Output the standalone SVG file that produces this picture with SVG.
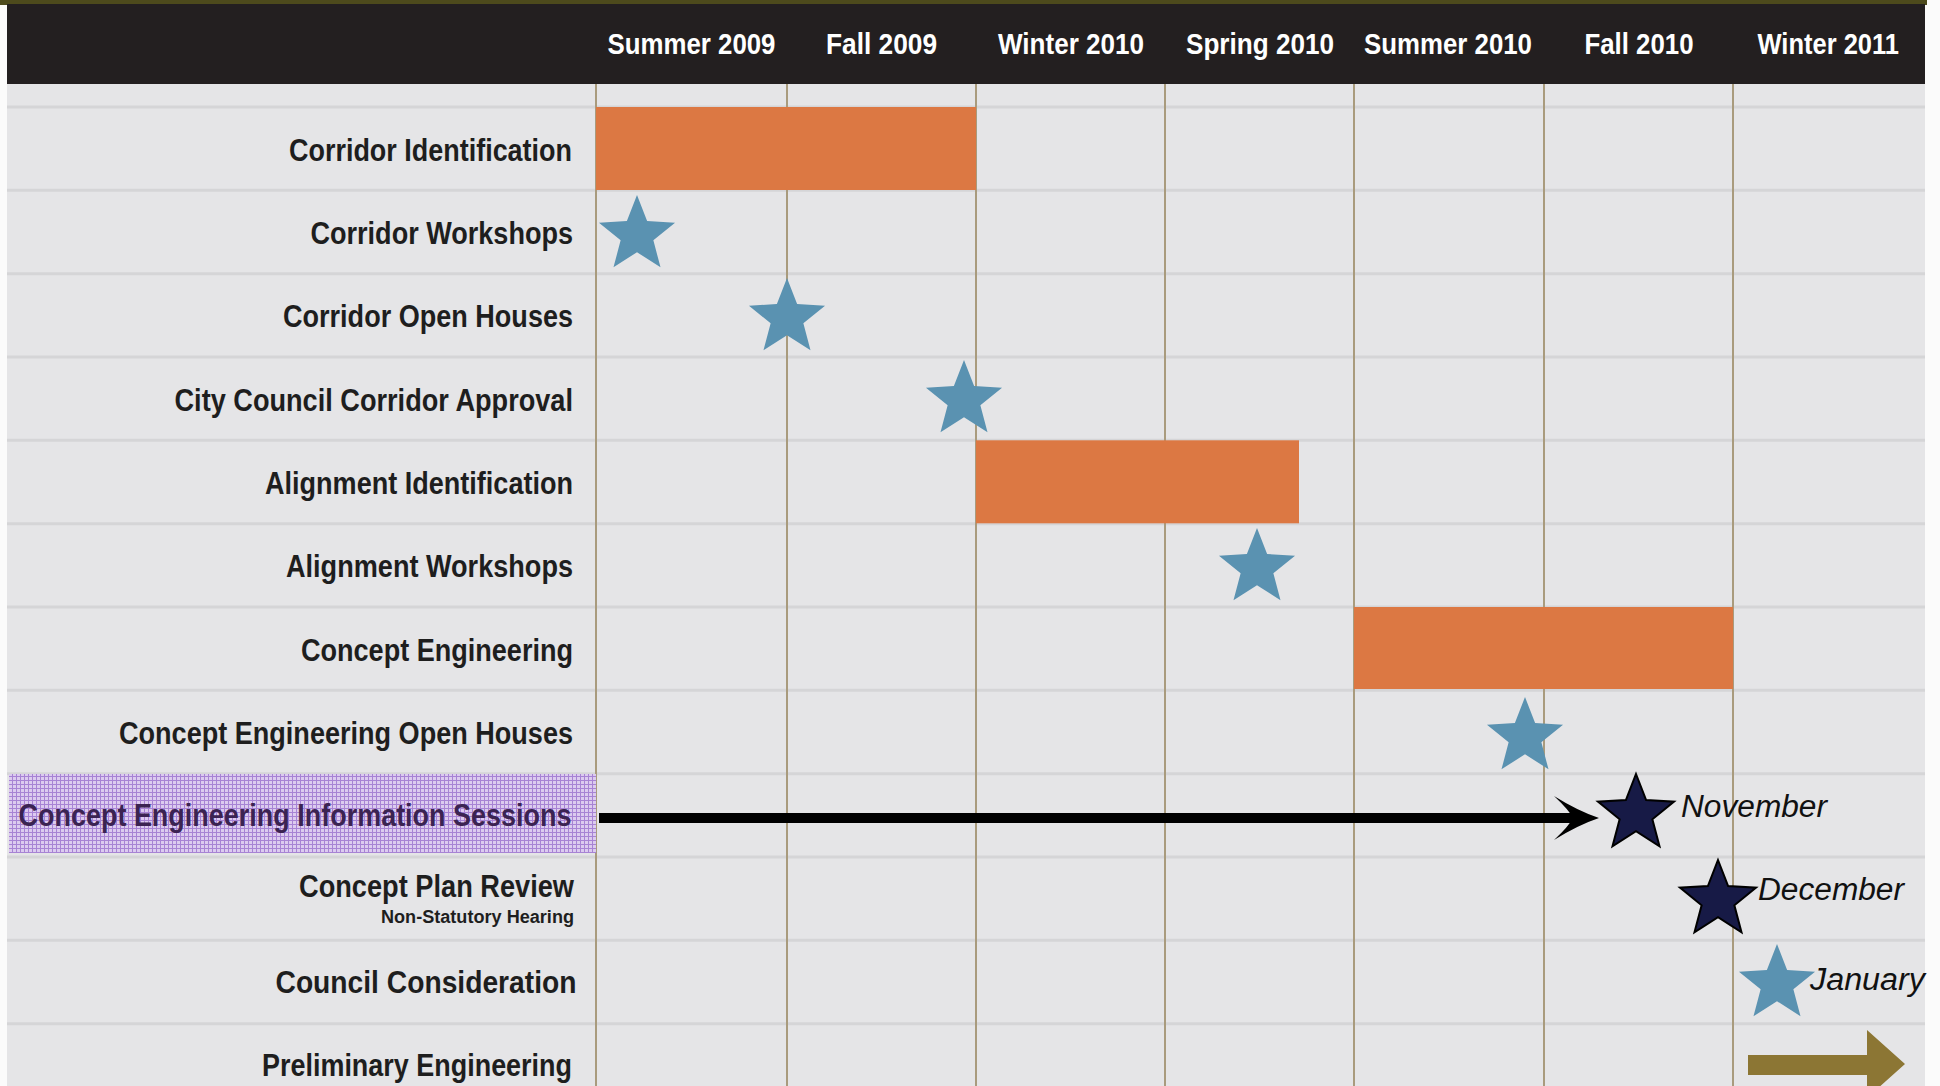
<svg xmlns="http://www.w3.org/2000/svg" xmlns:xlink="http://www.w3.org/1999/xlink" width="1940" height="1086" viewBox="0 0 1940 1086">
  <style>
    .hdr { font-family: "Liberation Sans", Arial, sans-serif; font-weight: bold; font-size: 29px; fill: #ffffff; }
    .lbl { font-family: "Liberation Sans", Arial, sans-serif; font-weight: bold; font-size: 32px; fill: #1e1e1e; }
    .sub { font-family: "Liberation Sans", Arial, sans-serif; font-weight: bold; font-size: 18px; fill: #1e1e1e; }
    .hi { fill: #3b2352; }
    .mon { font-family: "Liberation Sans", Arial, sans-serif; font-style: italic; font-size: 31px; fill: #111111; }
    .vline { stroke: #a99b7d; stroke-width: 2; }
    .rline { stroke: #d5d5d7; stroke-width: 3; }
    .bar { fill: #dc7843; }
    .star { fill: #5a92b1; }
    .dstar { fill: #171a46; stroke: #000000; stroke-width: 2; stroke-linejoin: miter; }
  </style>
  <defs>
    <path id="star" d="M0,-40 L10.11,-13.92 L38.04,-12.36 L16.36,5.32 L23.51,32.36 L0,17.2 L-23.51,32.36 L-16.36,5.32 L-38.04,-12.36 L-10.11,-13.92 Z"/>
    <pattern id="dots" width="4" height="4" patternUnits="userSpaceOnUse">
      <rect width="4" height="4" fill="#dccbef"/>
      <rect width="4" height="1" fill="#a783d4"/>
      <rect width="1" height="4" fill="#a783d4"/>
    </pattern>
    <marker id="barb" markerUnits="userSpaceOnUse" markerWidth="48" markerHeight="46" viewBox="0 0 48 46" refX="22" refY="22" orient="auto">
      <path d="M0,0 Q24,15 45,22 Q24,29 0,44 Q15,30 19,22 Q15,14 0,0 Z" fill="#000000"/>
    </marker>
  </defs>

  <!-- background -->
  <rect x="0" y="0" width="1940" height="1086" fill="#fbfbfb"/>
  <rect x="7" y="84" width="1918" height="1002" fill="#e5e5e7"/>
  <rect x="0" y="0" width="1927" height="5" fill="#4d4a1c"/>
  <rect x="7" y="4" width="1918" height="80" fill="#231f20"/>

  <!-- header -->
  <g id="header">
    <text class="hdr" x="607.5" y="54" textLength="168" lengthAdjust="spacingAndGlyphs">Summer 2009</text>
    <text class="hdr" x="826" y="54" textLength="111" lengthAdjust="spacingAndGlyphs">Fall 2009</text>
    <text class="hdr" x="998" y="54" textLength="146" lengthAdjust="spacingAndGlyphs">Winter 2010</text>
    <text class="hdr" x="1186" y="54" textLength="148" lengthAdjust="spacingAndGlyphs">Spring 2010</text>
    <text class="hdr" x="1364" y="54" textLength="168" lengthAdjust="spacingAndGlyphs">Summer 2010</text>
    <text class="hdr" x="1584.5" y="54" textLength="109" lengthAdjust="spacingAndGlyphs">Fall 2010</text>
    <text class="hdr" x="1757.5" y="54" textLength="141.5" lengthAdjust="spacingAndGlyphs">Winter 2011</text>
  </g>

  <!-- grid -->
  <g id="grid">
    <line class="rline" x1="7" y1="107" x2="1925" y2="107"/>
    <line class="rline" x1="7" y1="190.3" x2="1925" y2="190.3"/>
    <line class="rline" x1="7" y1="273.7" x2="1925" y2="273.7"/>
    <line class="rline" x1="7" y1="357" x2="1925" y2="357"/>
    <line class="rline" x1="7" y1="440.3" x2="1925" y2="440.3"/>
    <line class="rline" x1="7" y1="523.7" x2="1925" y2="523.7"/>
    <line class="rline" x1="7" y1="607" x2="1925" y2="607"/>
    <line class="rline" x1="7" y1="690.3" x2="1925" y2="690.3"/>
    <line class="rline" x1="7" y1="773.7" x2="1925" y2="773.7"/>
    <line class="rline" x1="7" y1="857" x2="1925" y2="857"/>
    <line class="rline" x1="7" y1="940.3" x2="1925" y2="940.3"/>
    <line class="rline" x1="7" y1="1023.7" x2="1925" y2="1023.7"/>
    <line class="vline" x1="596" y1="84" x2="596" y2="1086"/>
    <line class="vline" x1="787" y1="84" x2="787" y2="1086"/>
    <line class="vline" x1="976" y1="84" x2="976" y2="1086"/>
    <line class="vline" x1="1165" y1="84" x2="1165" y2="1086"/>
    <line class="vline" x1="1354" y1="84" x2="1354" y2="1086"/>
    <line class="vline" x1="1544" y1="84" x2="1544" y2="1086"/>
    <line class="vline" x1="1733" y1="84" x2="1733" y2="1086"/>
  </g>

  <!-- rows / nodes -->
  <g id="corridor-identification">
    <text class="lbl" x="289" y="161" textLength="283" lengthAdjust="spacingAndGlyphs">Corridor Identification</text>
    <rect class="bar" x="596" y="107" width="380" height="83"/>
  </g>
  <g id="corridor-workshops">
    <text class="lbl" x="310.5" y="244" textLength="262.5" lengthAdjust="spacingAndGlyphs">Corridor Workshops</text>
    <use href="#star" class="star" x="637" y="235"/>
  </g>
  <g id="corridor-open-houses">
    <text class="lbl" x="283" y="327" textLength="290" lengthAdjust="spacingAndGlyphs">Corridor Open Houses</text>
    <use href="#star" class="star" x="787" y="318"/>
  </g>
  <g id="city-council-corridor-approval">
    <text class="lbl" x="174.5" y="410.5" textLength="398.5" lengthAdjust="spacingAndGlyphs">City Council Corridor Approval</text>
    <use href="#star" class="star" x="964" y="400"/>
  </g>
  <g id="alignment-identification">
    <text class="lbl" x="265" y="494" textLength="308" lengthAdjust="spacingAndGlyphs">Alignment Identification</text>
    <rect class="bar" x="976" y="440.3" width="323" height="83"/>
  </g>
  <g id="alignment-workshops">
    <text class="lbl" x="286" y="577" textLength="287" lengthAdjust="spacingAndGlyphs">Alignment Workshops</text>
    <use href="#star" class="star" x="1257" y="568"/>
  </g>
  <g id="concept-engineering">
    <text class="lbl" x="301" y="660.5" textLength="272" lengthAdjust="spacingAndGlyphs">Concept Engineering</text>
    <rect class="bar" x="1354" y="607" width="379" height="82"/>
  </g>
  <g id="concept-engineering-open-houses">
    <text class="lbl" x="119" y="744" textLength="454" lengthAdjust="spacingAndGlyphs">Concept Engineering Open Houses</text>
    <use href="#star" class="star" x="1525" y="737"/>
  </g>
  <g id="concept-engineering-information-sessions">
    <rect x="9" y="774" width="587" height="79" fill="url(#dots)"/>
    <text class="lbl hi" x="18.5" y="826" textLength="553" lengthAdjust="spacingAndGlyphs">Concept Engineering Information Sessions</text>
  </g>
  <g id="november">
    <use href="#star" class="dstar" x="1636" y="814"/>
    <text class="mon" x="1681" y="817" textLength="146" lengthAdjust="spacingAndGlyphs">November</text>
  </g>
  <g id="concept-plan-review">
    <text class="lbl" x="299" y="897" textLength="275" lengthAdjust="spacingAndGlyphs">Concept Plan Review</text>
    <text class="sub" x="381" y="923" textLength="193" lengthAdjust="spacingAndGlyphs">Non-Statutory Hearing</text>
    <use href="#star" class="dstar" x="1718" y="900"/>
    <text class="mon" x="1758" y="900" textLength="146" lengthAdjust="spacingAndGlyphs">December</text>
  </g>
  <g id="council-consideration">
    <text class="lbl" x="275.5" y="993" textLength="301" lengthAdjust="spacingAndGlyphs">Council Consideration</text>
    <use href="#star" class="star" x="1777" y="984"/>
    <text class="mon" x="1810" y="990" textLength="115" lengthAdjust="spacingAndGlyphs">January</text>
  </g>
  <g id="preliminary-engineering">
    <text class="lbl" x="262" y="1076" textLength="310" lengthAdjust="spacingAndGlyphs">Preliminary Engineering</text>
    <polygon points="1748,1055 1867,1055 1867,1030 1905,1064 1867,1098 1867,1075 1748,1075" fill="#8c7634"/>
  </g>

  <!-- connectors -->
  <g id="connectors">
    <path d="M599,818 L1576,818" stroke="#000000" stroke-width="10" fill="none" marker-end="url(#barb)"/>
  </g>
</svg>
